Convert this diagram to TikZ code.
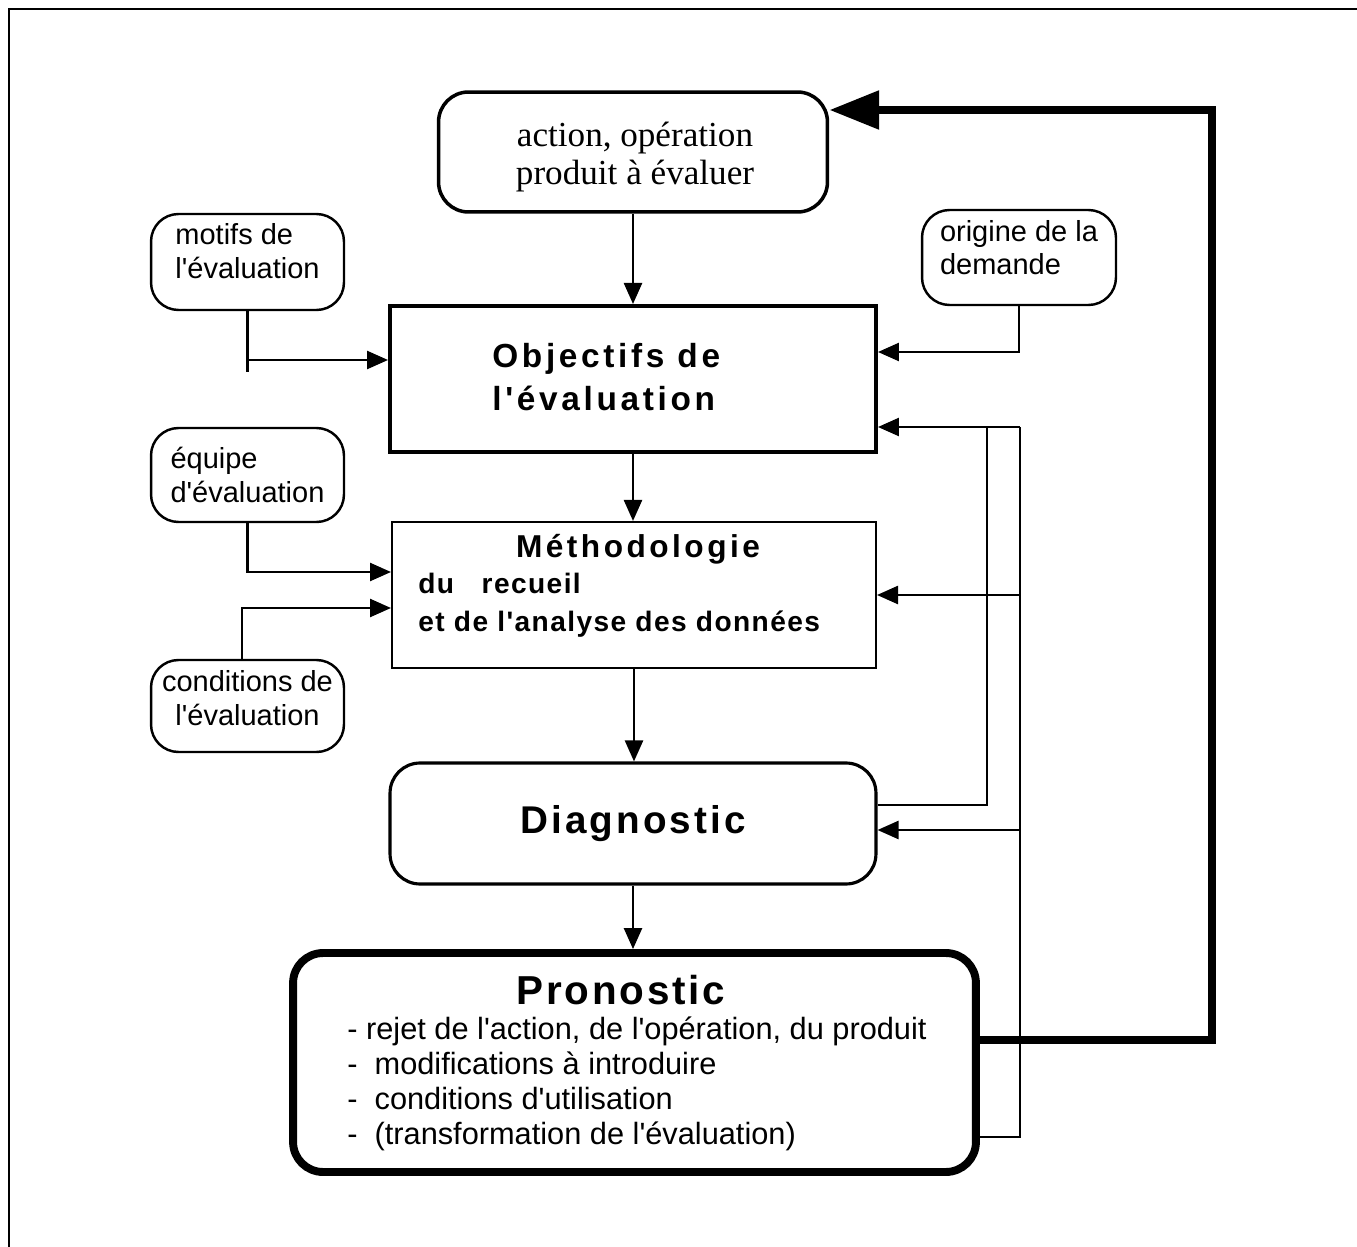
\documentclass[tikz,border=0pt]{standalone}
\usepackage{fontspec}
\setmainfont{Liberation Serif}
\setsansfont{Liberation Sans}[Ligatures=TeXOff]
\usetikzlibrary{arrows.meta,positioning}

\begin{document}
\begin{tikzpicture}[x=0.02cm,y=-0.02cm,
		petit/.style={draw,rounded corners=0.55cm,line width=1.4pt,minimum width=3.86cm,minimum height=1.9cm,inner sep=0pt,align=left,font=\sffamily\fontsize{16.5}{19.3}\selectfont},
		cadre/.style={draw,inner sep=0pt,minimum width=9.72cm},
		fleche/.style={-{Triangle[length=0.42cm,width=0.36cm]},line width=1.4pt},
		retour/.style={-{Triangle[length=1cm,width=0.74cm]},line width=5pt}]
	\pgfmathsetmacro{\BusA}{987}
	\pgfmathsetmacro{\BusB}{1020}
	\pgfmathsetmacro{\Retour}{1212}
	\useasboundingbox (0,0) rectangle (1357,1247);
	% FRAME
	\draw[line width=1.7pt] (9,1247) -- (9,9) -- (1357,9);
	% MAIN COLUMN
	\node[cadre,rounded corners=0.6cm,line width=2pt,minimum width=7.78cm,minimum height=2.4cm] (action) at (633,152) {};
	\node[align=center,inner sep=0pt,font=\rmfamily\fontsize{20}{21.6}\selectfont] (action-txt) at (635,157) {action, opération\\produit à évaluer};
	\node[cadre,line width=2.3pt,minimum height=2.92cm] (objectifs) at (633,379) {};
	\node[anchor=west,align=left,inner sep=0pt,font=\sffamily\bfseries\fontsize{19}{24.5}\selectfont\addfontfeatures{LetterSpace=11}] (objectifs-txt) at (492,377) {Objectifs de\\l'évaluation};
	\node[cadre,line width=1.2pt,minimum width=9.68cm,minimum height=2.92cm] (methodo) at (634,595) {};
	\node[inner sep=0pt,font=\sffamily\bfseries\fontsize{18}{18}\selectfont\addfontfeatures{LetterSpace=11}] (methodo-titre) at (638,549) {Méthodologie};
	\node[anchor=west,align=left,inner sep=0pt,font=\sffamily\bfseries\fontsize{16}{21.6}\selectfont\addfontfeatures{LetterSpace=5}] (methodo-txt) at (418,605) {du\ \ \ recueil\\et de l'analyse des données};
	\node[cadre,rounded corners=0.6cm,line width=1.8pt,minimum height=2.42cm,font=\sffamily\bfseries\fontsize{22}{22}\selectfont\addfontfeatures{LetterSpace=8}] (diagnostic) at (633,823.5) {Diagnostic};
	\node[cadre,rounded corners=0.6cm,line width=4.5pt,minimum width=13.66cm,minimum height=4.38cm] (pronostic) at (634.5,1062.5) {};
	\node[inner sep=0pt,font=\sffamily\bfseries\fontsize{23}{23}\selectfont\addfontfeatures{LetterSpace=7}] (pronostic-titre) at (621,990) {Pronostic};
	\node[anchor=west,align=left,inner sep=0pt,font=\sffamily\fontsize{17.5}{19.9}\selectfont] (pronostic-txt) at (347,1083.5) {- rejet de l'action, de l'opération, du produit\\-\ \ modifications à introduire\\-\ \ conditions d'utilisation\\-\ \ (transformation de l'évaluation)};
	% SIDE BOXES
	\node[petit,minimum height=1.92cm,text depth=0.44cm] (motifs) at (247.5,262) {motifs de\\l'évaluation};
	\node[petit,minimum height=1.88cm] (equipe) at (247.5,475) {équipe\\d'évaluation};
	\node[petit,minimum height=1.84cm,align=center,text depth=0.32cm] (conditions) at (247.5,706) {conditions de\\l'évaluation};
	\node[petit,minimum width=3.88cm,text depth=0.4cm] (origine) at (1019,257.5) {origine de la\\demande};
	% DOWN
	\draw[fleche] (action.south) -- (action.south |- objectifs.north);
	\draw[fleche] (objectifs.south) -- (objectifs.south |- methodo.north);
	\draw[fleche] (methodo.south) -- (methodo.south |- diagnostic.north);
	\draw[fleche] (diagnostic.south) -- (diagnostic.south |- pronostic.north);
	% LEFT INPUTS
	\coordinate (motifs-bas) at (247.5,372);
	\coordinate (m1) at (247.5,360);
	\draw[line width=1.4pt] (motifs.south) -- (motifs-bas);
	\draw[fleche] (m1) -- (objectifs.west |- m1);
	\coordinate (e1) at (0,572);
	\draw[fleche] (equipe.south) |- (methodo.west |- e1);
	\coordinate (c1) at (0,608);
	\draw[fleche] ([xshift=-0.11cm]conditions.north) |- (methodo.west |- c1);
	% RIGHT INPUTS
	\coordinate (o1) at (0,352);
	\draw[fleche] (origine.south) |- (objectifs.east |- o1);
	\coordinate (haut) at (\BusB,427);
	\coordinate (jonction) at (\BusA,427);
	\coordinate (coude) at (\BusA,805);
	\coordinate (pied) at (\BusB,1137);
	\coordinate (d1) at (\BusB,830);
	\draw[line width=1.4pt] (diagnostic.east |- coude) -- (coude) -- (jonction);
	\draw[line width=1.4pt] (pronostic.east |- pied) -- (pied) -- (haut);
	\draw[fleche] (haut) -- (objectifs.east |- haut);
	\draw[fleche] (haut |- methodo.east) -- (methodo.east);
	\draw[fleche] (d1) -- (diagnostic.east |- d1);
	% BACK TO TOP
	\coordinate (r1) at (\Retour,1040);
	\coordinate (r2) at (\Retour,110);
	\draw[retour] (pronostic.east |- r1) -- (r1) -- (r2) -- (action.east |- r2);
\end{tikzpicture}
\end{document}
